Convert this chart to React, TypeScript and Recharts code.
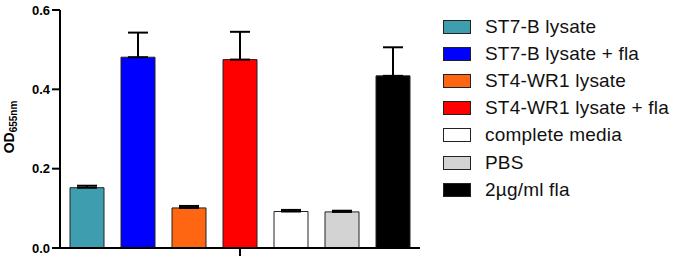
import React from 'react';
import { BarChart, Bar, XAxis, YAxis, Legend, ErrorBar } from 'recharts';

const groupNames = ['ST7-B lysate', 'ST7-B lysate + fla', 'ST4-WR1 lysate', 'ST4-WR1 lysate + fla', 'complete media', 'PBS', '2µg/ml fla'];
const meanValues = [0.152, 0.481, 0.101, 0.475, 0.092, 0.091, 0.434];
const sdValues = [0.005, 0.062, 0.005, 0.07, 0.004, 0.003, 0.072];
const yTicks = [0, 0.2, 0.4, 0.6];

const fills = ['#3f9db0', '#0000ff', '#ff6611', '#ff0000', '#ffffff', '#d3d3d3', '#000000'];
const font = '"Liberation Sans", Arial, sans-serif';

// one category, one series per group (like the Prism layout)
const row: Record<string, any> = { name: '' };
groupNames.forEach((g, i) => {
  row['s' + i] = meanValues[i];
  row['e' + i] = [0, sdValues[i]];
});
const data = [row];

// legend built in series order (recharts sorts its payload by name)
const CustomLegend = () => (
  <div style={{ width: 234, paddingTop: 3, fontFamily: font }}>
    {groupNames.map((g, i) => (
      <div key={g} style={{ display: 'flex', alignItems: 'center', height: 27.2 }}>
        <span
          style={{
            display: 'inline-block',
            flexShrink: 0,
            width: 26,
            height: 12,
            marginLeft: 23,
            marginRight: 14,
            background: fills[i],
            border: '1px solid #222',
          }}
        />
        <span style={{ fontSize: 19, color: '#111', letterSpacing: 0.2, whiteSpace: 'nowrap' }}>{g}</span>
      </div>
    ))}
  </div>
);

const YLabel = () => (
  <text transform="translate(14,127) rotate(-90)" textAnchor="middle" fontFamily={font} fontWeight="bold" fill="#000">
    <tspan fontSize={14}>OD</tspan>
    <tspan fontSize={10} dy={3}>655nm</tspan>
  </text>
);

export default function App() {
  return (
    <div style={{ width: 674, height: 261 }}>
      <style>{'body{margin:0}'}</style>
      <BarChart
        width={674}
        height={261}
        data={data}
        margin={{ top: 10, right: 20, left: 0, bottom: 0 }}
        barCategoryGap={10}
        barGap={17}
      >
        <XAxis
          dataKey="name"
          height={13}
          tickSize={8}
          axisLine={{ stroke: '#000', strokeWidth: 2 }}
          tickLine={{ stroke: '#000', strokeWidth: 2 }}
          tick={() => <g />}
        />
        <YAxis
          width={60}
          domain={[0, 0.6]}
          ticks={yTicks}
          tickFormatter={(v: number) => v.toFixed(1)}
          tickSize={8}
          tickMargin={2}
          axisLine={{ stroke: '#000', strokeWidth: 2 }}
          tickLine={{ stroke: '#000', strokeWidth: 2 }}
          tick={{ fill: '#000', fontSize: 13, fontWeight: 'bold', fontFamily: font }}
          label={<YLabel />}
        />
        <Legend layout="vertical" align="right" verticalAlign="top" content={<CustomLegend />} />
        {groupNames.map((g, i) => (
          <Bar
            key={g}
            dataKey={'s' + i}
            name={g}
            fill={fills[i]}
            stroke="#222"
            strokeWidth={1}
            barSize={34}
            isAnimationActive={false}
          >
            <ErrorBar dataKey={'e' + i} width={10} stroke="#000" strokeWidth={2} direction="y" />
          </Bar>
        ))}
      </BarChart>
    </div>
  );
}
